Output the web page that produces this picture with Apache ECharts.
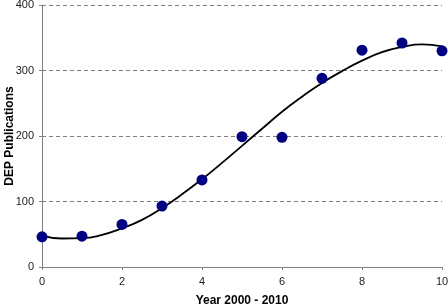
<!DOCTYPE html>
<html>
<head>
<meta charset="utf-8">
<script src="https://cdn.jsdelivr.net/npm/echarts@6/dist/echarts.min.js"></script>
<style>
  html, body { margin: 0; padding: 0; background: #fff; }
  #chart { width: 448px; height: 307px; }
</style>
</head>
<body>
<div id="chart"></div>
<script>
// DEP Publications per year, 2000 - 2010 (x = years since 2000)
var years = [0, 1, 2, 3, 4, 5, 6, 7, 8, 9, 10];
var publications = [46, 47, 65, 93, 133, 199, 198, 288, 331, 342, 330];

// trend line
var trendX = [0, 0.5, 1, 1.5, 2, 2.5, 3, 3.5, 4, 4.5, 5, 5.5, 6, 6.5, 7, 7.5, 8, 8.5, 9, 9.5, 10];
var trendY = [48, 43.5, 44, 49, 59, 72, 90, 111, 134, 159, 185, 211, 237, 260, 281, 299, 315, 328, 336, 340, 337];

var yTicks = [0, 100, 200, 300, 400];

function initPubChart(){
    var e = echarts.init(document.getElementById("chart"));

    var points = years.map(function(x, i){ return [x, publications[i]]; });
    var trend = trendX.map(function(x, i){ return [x, trendY[i]]; });

    var option = {
        animation: false,
        grid: {
            left: 42,
            right: 6,
            top: 5,
            bottom: 40,
            containLabel: false,
            outerBoundsMode: 'none'
        },
        xAxis: {
            type: 'value',
            min: 0,
            max: 10,
            interval: 2,
            name: 'Year 2000 - 2010',
            nameLocation: 'middle',
            nameGap: 28,
            nameTextStyle: {
                fontFamily: 'Liberation Sans',
                fontWeight: 'bold',
                fontSize: 12,
                color: '#000'
            },
            axisLine: { lineStyle: { color: '#808080', width: 1 } },
            axisTick: { show: true, length: 3, lineStyle: { color: '#808080' } },
            axisLabel: {
                margin: 9,
                fontFamily: 'Liberation Sans',
                fontSize: 11,
                color: '#222'
            },
            splitLine: { show: false }
        },
        yAxis: {
            type: 'value',
            min: yTicks[0],
            max: yTicks[yTicks.length - 1],
            interval: 100,
            name: 'DEP Publications',
            nameLocation: 'middle',
            nameGap: 26,
            nameMoveOverlap: false,
            nameTextStyle: {
                fontFamily: 'Liberation Sans',
                fontWeight: 'bold',
                fontSize: 12,
                color: '#000'
            },
            axisLine: { show: true, lineStyle: { color: '#808080', width: 1 } },
            axisTick: { show: true, length: 3, lineStyle: { color: '#808080' } },
            axisLabel: {
                margin: 8,
                fontFamily: 'Liberation Sans',
                fontSize: 11,
                color: '#222'
            },
            splitLine: {
                show: true,
                lineStyle: { color: '#808080', type: [4, 3], width: 1 }
            }
        },
        series: [
            {
                name: 'trend',
                type: 'line',
                data: trend,
                smooth: true,
                showSymbol: false,
                lineStyle: { color: '#000', width: 1.8 },
                z: 2
            },
            {
                name: 'DEP Publications',
                type: 'scatter',
                data: points,
                symbolSize: 11,
                itemStyle: { color: '#000080', opacity: 1 },
                z: 3
            }
        ]
    };
    e.setOption(option);
}

initPubChart();
</script>
</body>
</html>
